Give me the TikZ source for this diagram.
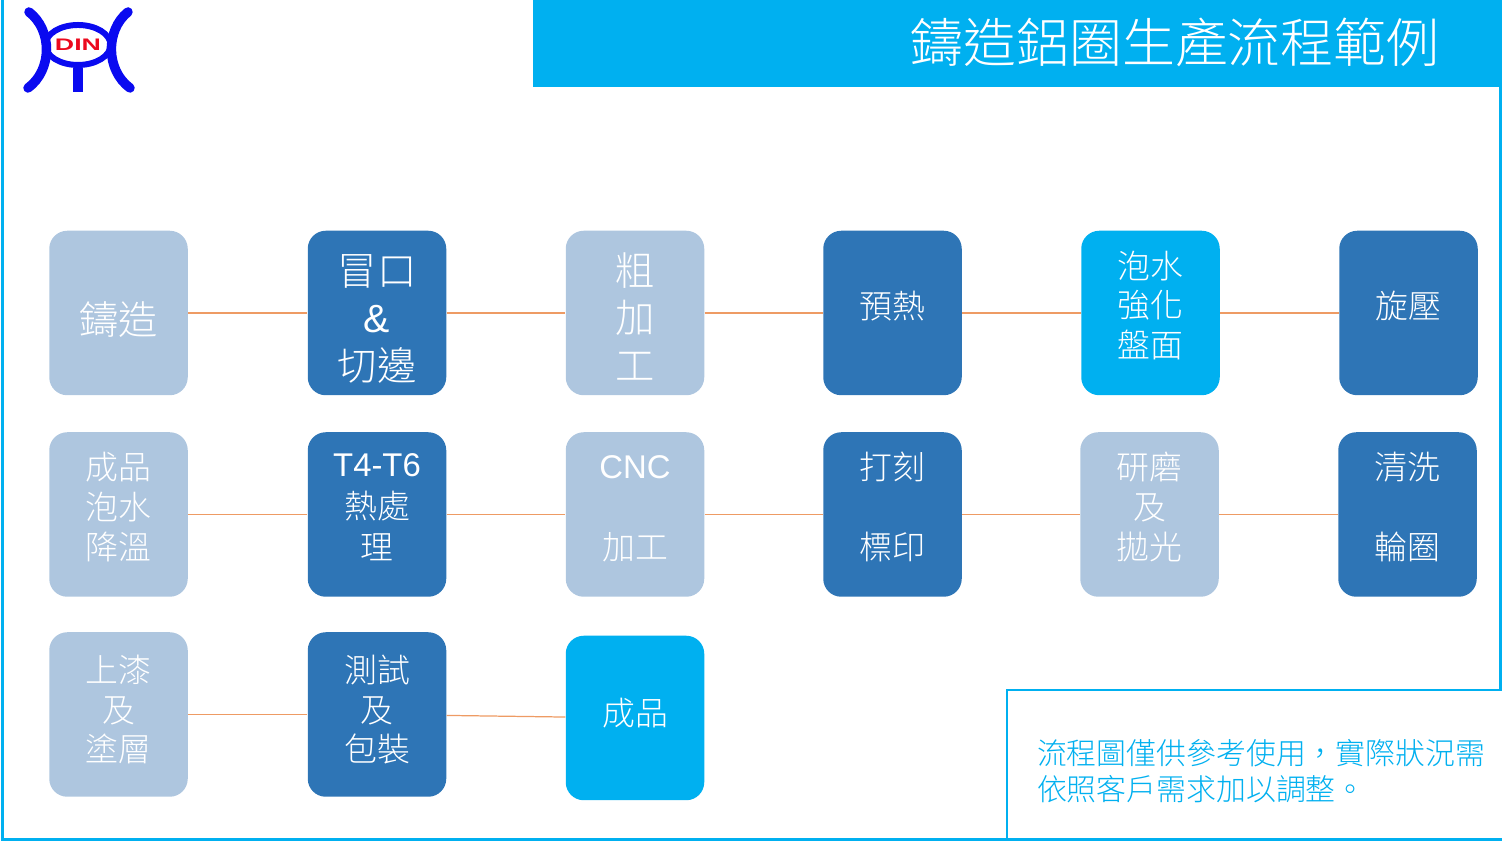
\documentclass[tikz,border=0pt]{standalone}
\usepackage{fontspec}
\usepackage{graphicx}
\usepackage{xcolor}
\usepackage{tikz}
\usetikzlibrary{shapes.geometric, positioning}
\setmainfont{Liberation Sans}
\newfontfamily\cjk{Noto Sans CJK TC Light}
\newfontfamily\latin{Liberation Sans}
\definecolor{boxlight}{RGB}{174,198,223}
\definecolor{boxdark}{RGB}{46,117,182}
\definecolor{boxcyan}{RGB}{0,176,240}
\definecolor{linkorange}{RGB}{238,155,100}
\definecolor{logoblue}{RGB}{10,10,240}
\definecolor{logored}{RGB}{235,10,30}

\begin{document}
\begin{tikzpicture}[
  every node/.style={text=white},
  box/.style={rectangle, rounded corners=3.6mm, draw=none, minimum width=2.77cm, minimum height=3.29cm, align=center, inner sep=0pt, font=\cjk\fontsize{18.7}{22.7}\selectfont},
  bigbox/.style={font=\cjk\fontsize{22.4}{27.2}\selectfont},
  tall/.style={bigbox, text height=79pt, text depth=2pt},
  pale/.style={box, fill=boxlight},
  deep/.style={box, fill=boxdark},
  bright/.style={box, fill=boxcyan},
  lift/.style={text depth=#1},
  lift/.default=10pt,
  link/.style={draw=linkorange, line width=0.7pt},
  frame/.style={draw=boxcyan, line width=1.4pt},
  logoline/.style={draw=logoblue, line width=5.4pt, line cap=round}
]
\useasboundingbox (0,0) rectangle (30.04,16.9);
% outer frame, open at the top
\draw[frame] (0.05,16.9) -- (0.05,0.11) -- (30.01,0.11) -- (30.01,16.9);

% title band
\node[fill=boxcyan, minimum width=19.4cm, minimum height=1.74cm, inner sep=0pt] (band) at (20.35,16.03) {};
\node[font=\cjk\fontsize{30.1}{32}\selectfont, inner sep=0pt] (title) at (23.5,16.05) {鑄造鋁圈生產流程範例};

% logo
\draw[logoline] (0.58,16.66) .. controls (1.05,16.3) and (1.05,15.5) .. (0.56,15.14);
\draw[logoline] (2.56,16.66) .. controls (2.11,16.3) and (2.11,15.5) .. (2.6,15.14);
\node[ellipse, draw=logoblue, line width=3.4pt, minimum width=1.16cm, minimum height=0.8cm, inner sep=0pt, text=logored, font=\latin\bfseries\fontsize{9.5}{10}\selectfont] (din) at (1.56,16.0) {\scalebox{1.6}[1]{DIN}};
\draw[draw=logoblue, line width=5.6pt] (din.south) -- ++(0,-0.48);

% Row 1 (y=10.64)
\node[pale, bigbox, text height=26pt] (cast) at (2.37, 10.64) {鑄造};
\node[deep, tall]   (riser) at (7.54, 10.64) {冒口\\{\latin\&}\\切邊};
\node[pale, tall]   (rough) at (12.70,10.64) {粗\\加\\工};
\node[deep, lift=9pt] (heat) at (17.85,10.64) {預熱};
\node[bright, lift] (dip)   at (23.01,10.64) {泡水\\強化\\盤面};
\node[deep, lift=9pt] (spin) at (28.17,10.64) {旋壓};
% Row 2 (y=6.61)
\node[pale, lift]   (cool)  at (2.37, 6.61) {成品\\泡水\\降溫};
\node[deep, lift=9pt] (treat) at (7.54, 6.61) {{\latin T4-T6}\\[1pt]熱處\\[1pt]理};
\node[pale, lift=8pt] (cnc) at (12.70,6.61) {{\latin CNC}\\[1pt]~\\加工};
\node[deep, lift]   (mark)  at (17.85,6.61) {打刻\\~\\標印};
\node[pale, lift]   (polish) at (22.99,6.61) {研磨\\及\\拋光};
\node[deep, lift]   (wash)  at (28.15,6.61) {清洗\\~\\輪圈};
% Row 3 (y=2.61)
\node[pale, lift=7pt]   (paint) at (2.37, 2.61) {上漆\\及\\塗層};
\node[deep, lift=7pt]   (test)  at (7.54, 2.61) {測試\\及\\包裝};
\node[bright, lift=7pt] (done)  at (12.70,2.54) {成品};

% row links
\draw[link] (cast)  -- (riser);
\draw[link] (riser) -- (rough);
\draw[link] (rough) -- (heat);
\draw[link] (heat)  -- (dip);
\draw[link] (dip)   -- (spin);
\draw[link] (cool)  -- (treat);
\draw[link] (treat) -- (cnc);
\draw[link] (cnc)   -- (mark);
\draw[link] (mark)  -- (polish);
\draw[link] (polish) -- (wash);
\draw[link] (paint) -- (test);
\draw[link] (test)  -- (done);

% note at lower right
\node[frame, fill=white, text=boxcyan, minimum width=10.3cm, minimum height=2.98cm, inner xsep=0.6cm, inner ysep=0pt, text width=9.1cm, align=left, text height=22pt, font=\cjk\fontsize{17}{20.4}\selectfont] (note) at (25.29,1.61) {流程圖僅供參考使用，實際狀況需\\依照客戶需求加以調整。};
\end{tikzpicture}
\end{document}
